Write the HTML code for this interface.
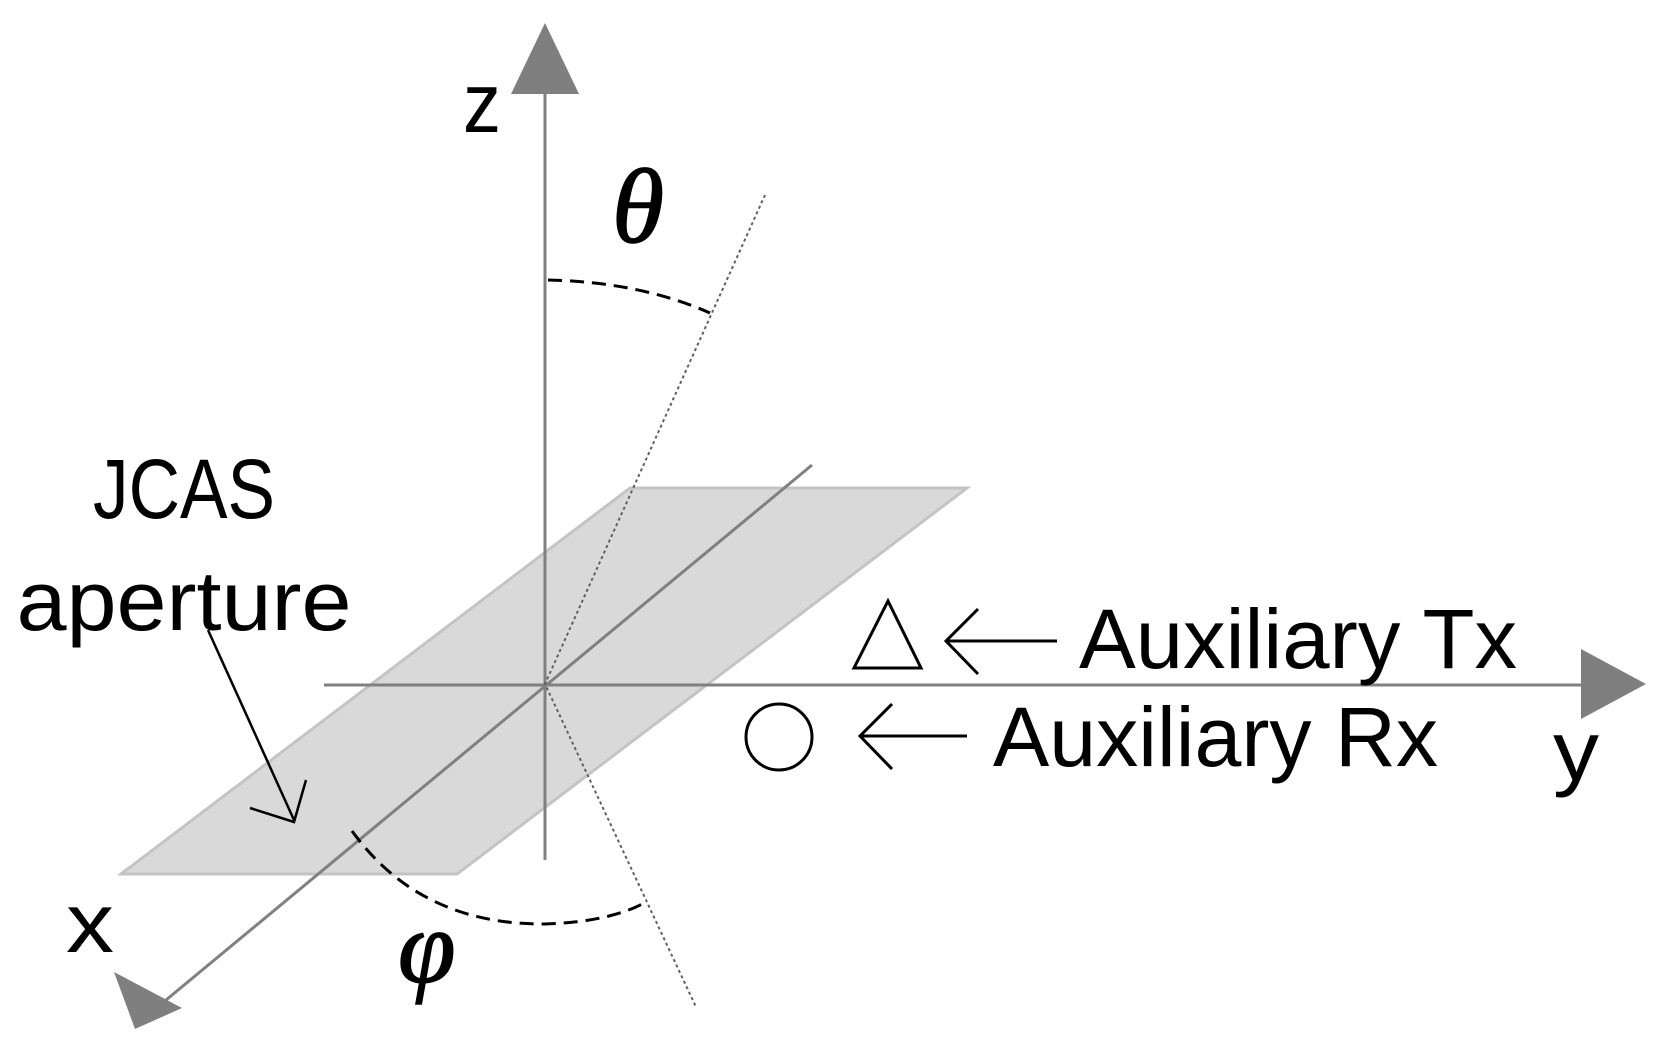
<!DOCTYPE html>
<html><head><style>html,body{margin:0;padding:0;background:#fff}svg{display:block}</style></head>
<body>
<svg width="1666" height="1062" viewBox="0 0 1666 1062" xmlns="http://www.w3.org/2000/svg" font-family="'Liberation Sans', sans-serif">
<polygon points="630,488 967,488 457,874 121,874" fill="#d9d9d9" stroke="#c4c4c4" stroke-width="3"/>
<line x1="545" y1="90" x2="545" y2="860" stroke="#808080" stroke-width="3"/>
<polygon points="545,23 511,94 579,94" fill="#7f7f7f"/>
<line x1="324" y1="685" x2="1585" y2="685" stroke="#808080" stroke-width="3"/>
<polygon points="1646,684 1581,649 1581,719" fill="#7f7f7f"/>
<line x1="812" y1="465" x2="160" y2="1005" stroke="#808080" stroke-width="3"/>
<polygon points="135,1029 114,972 182,1008" fill="#7f7f7f"/>
<polyline points="765,195 545,684 696,1007" fill="none" stroke="#606060" stroke-width="2" stroke-dasharray="3,3"/>
<path d="M548,280 Q640,282 710,313" fill="none" stroke="#000" stroke-width="3" stroke-dasharray="14,8"/>
<path d="M352,831 Q420,925 545,924 Q610,922 646,902" fill="none" stroke="#000" stroke-width="3" stroke-dasharray="14,8"/>
<line x1="208" y1="630" x2="294" y2="820" stroke="#000" stroke-width="2.5"/>
<polyline points="250,808 294,822 306,780" fill="none" stroke="#000" stroke-width="2.5"/>
<polygon points="854,668 921,668 888,601" fill="none" stroke="#000" stroke-width="3"/>
<line x1="948" y1="641" x2="1057" y2="641" stroke="#000" stroke-width="3"/>
<polyline points="978,609 946,641 978,674" fill="none" stroke="#000" stroke-width="3"/>
<circle cx="779" cy="737" r="33" fill="none" stroke="#000" stroke-width="3"/>
<line x1="860" y1="736" x2="967" y2="736" stroke="#000" stroke-width="3"/>
<polyline points="892,704 860,736 892,769" fill="none" stroke="#000" stroke-width="3"/>
<g fill="#000" font-size="84">
<text x="1079" y="668" textLength="438" lengthAdjust="spacingAndGlyphs">Auxiliary Tx</text>
<text x="993" y="766" textLength="445" lengthAdjust="spacingAndGlyphs">Auxiliary Rx</text>
<text x="184" y="518" text-anchor="middle" textLength="182" lengthAdjust="spacingAndGlyphs">JCAS</text>
<text x="184" y="630" text-anchor="middle" textLength="335" lengthAdjust="spacingAndGlyphs">aperture</text>
<text x="463" y="132" textLength="38" lengthAdjust="spacingAndGlyphs">z</text>
<text x="1553" y="780" textLength="46" lengthAdjust="spacingAndGlyphs">y</text>
<text x="66" y="952" textLength="48" lengthAdjust="spacingAndGlyphs">x</text>
</g>
<text x="612" y="242" font-family="'Liberation Serif', serif" font-style="italic" font-size="106" stroke="#000" stroke-width="1.5">θ</text>
<text x="398" y="982" font-family="'Liberation Serif', serif" font-style="italic" font-size="104" stroke="#000" stroke-width="1.5">φ</text>
</svg>
</body></html>
